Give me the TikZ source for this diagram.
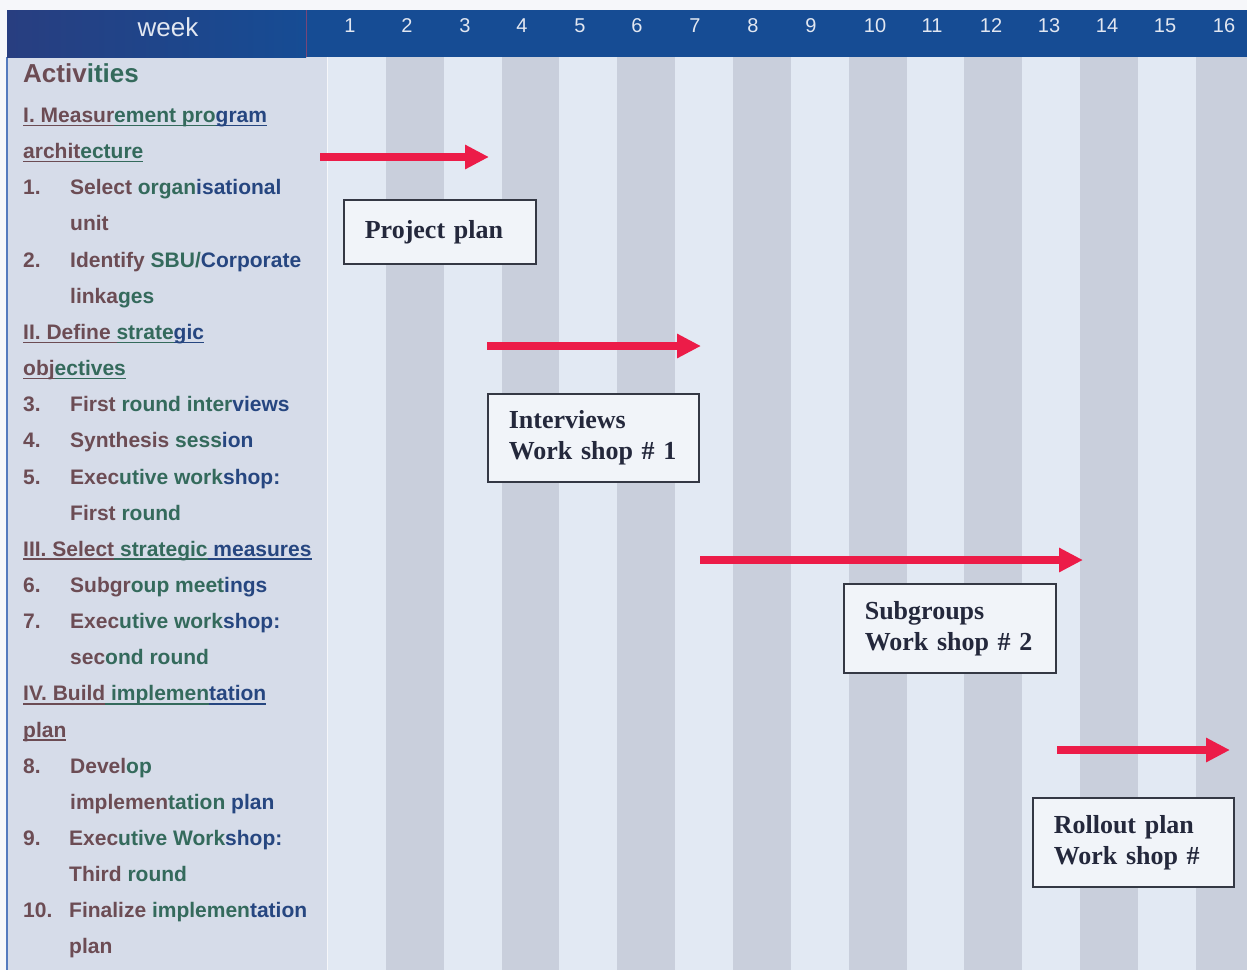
\documentclass[tikz,border=0pt]{standalone}
\usepackage{fontspec}
\setmainfont{Liberation Sans}
\newfontfamily\boxfont{Liberation Serif}
\usetikzlibrary{arrows.meta}

% palette
\definecolor{pagebg}{RGB}{246,247,250}
\definecolor{hdrblue}{RGB}{22,76,148}
\definecolor{hdrleft}{RGB}{40,62,128}
\definecolor{hdrmid}{RGB}{28,94,140}
\definecolor{hdrtext}{RGB}{226,231,241}
\definecolor{colbg}{RGB}{214,220,233}
\definecolor{stripelight}{RGB}{226,233,243}
\definecolor{stripedark}{RGB}{201,207,220}
\definecolor{edgeblue}{RGB}{84,122,190}
\definecolor{txtbrown}{RGB}{108,76,84}
\definecolor{txtgreen}{RGB}{52,106,92}
\definecolor{txtblue}{RGB}{38,70,128}
\definecolor{arrred}{RGB}{236,28,72}
\definecolor{boxline}{RGB}{52,56,68}
\definecolor{boxfill}{RGB}{241,244,249}
\definecolor{boxtext}{RGB}{36,40,60}

% coloured text runs
\newcommand\tb[1]{{\color{txtbrown}#1}}
\newcommand\tg[1]{{\color{txtgreen}#1}}
\newcommand\tu[1]{{\color{txtblue}#1}}
% underlined coloured run with a fixed underline position
\newcommand\ulseg[2]{{\color{#1}\setbox0\hbox{#2}\rlap{\rule[-3.8pt]{\wd0}{1.7pt}}\box0}}

\tikzset{
  x=1pt, y=-1pt,
  item/.style={anchor=base west, inner sep=0pt, font=\fontsize{21}{25}\selectfont\bfseries},
  weeknum/.style={anchor=base, inner sep=0pt, text=hdrtext, font=\fontsize{20}{24}\selectfont},
  planbox/.style={draw=boxline, line width=1.6pt, fill=boxfill, anchor=north west,
    inner xsep=21pt, inner ysep=0pt, align=left, text=boxtext,
    font=\boxfont\bfseries\fontsize{26}{31}\selectfont},
  phasearrow/.style={draw=arrred, line width=7.5pt, -{Triangle[length=24pt,width=23pt]}}
}

\begin{document}
\begin{tikzpicture}
\useasboundingbox (0,0) rectangle (1247,970);
\fill[pagebg] (0,0) rectangle (1247,970);

% week stripes
\begin{scope}
  \clip (7,57) rectangle (1247,970);
  \foreach \i in {0,...,15} {
    \pgfmathsetmacro{\xa}{328+57.86*\i}
    \pgfmathtruncatemacro{\odd}{mod(\i,2)}
    \ifnum\odd=0
      \fill[stripelight] (\xa,57) rectangle ++(57.86,913);
    \else
      \fill[stripedark] (\xa,57) rectangle ++(57.86,913);
    \fi
  }
\end{scope}

% activity column
\fill[colbg] (7,57) rectangle (327,970);
\draw[edgeblue, line width=1.5pt] (7,57) -- (7,970);

% header band
\fill[hdrblue] (7,10) rectangle (1247,57);
\shade[left color=hdrleft, middle color=hdrmid, right color=hdrblue] (7,10) rectangle (306,57);
\draw[draw={rgb,255:red,120;green,70;blue,120}, line width=0.6pt] (306,10) -- (306,57);

\node[anchor=base, inner sep=0pt, text=hdrtext, font=\fontsize{26}{30}\selectfont] (week) at (168,36) {week};
\foreach \n/\x in {1/350,2/407,3/465,4/522,5/580,6/637,7/695,8/753,9/811,10/875,11/932,12/991,13/1049,14/1107,15/1165,16/1224}
  \node[weeknum] (w\n) at (\x,32) {\n};

% activities list
\node[anchor=base west, inner sep=0pt, font=\fontsize{26}{30}\selectfont\bfseries] (act) at (23,82) {\tb{Activ}\tg{ities}};

\node[item] (h1a) at (23,122.5) {\ulseg{txtbrown}{I. Measur}\ulseg{txtgreen}{ement pro}\ulseg{txtblue}{gram}};
\node[item] (h1b) at (23,158.65) {\ulseg{txtbrown}{archit}\ulseg{txtgreen}{ecture}};
\node[item] (n1) at (23,194.8) {\tb{1.}};
\node[item] (t1a) at (70,194.8) {\tb{Select} \tg{organ}\tu{isational}};
\node[item] (t1b) at (70,230.95) {\tb{unit}};
\node[item] (n2) at (23,267.1) {\tb{2.}};
\node[item] (t2a) at (70,267.1) {\tb{Identify} \tg{SBU/}\tu{Corporate}};
\node[item] (t2b) at (70,303.25) {\tb{linka}\tg{ges}};

\node[item] (h2a) at (23,339.4) {\ulseg{txtbrown}{II. Define }\ulseg{txtgreen}{strate}\ulseg{txtblue}{gic}};
\node[item] (h2b) at (23,375.55) {\ulseg{txtbrown}{obj}\ulseg{txtgreen}{ectives}};
\node[item] (n3) at (23,411.7) {\tb{3.}};
\node[item] (t3) at (70,411.7) {\tb{First} \tg{round inter}\tu{views}};
\node[item] (n4) at (23,447.85) {\tb{4.}};
\node[item] (t4) at (70,447.85) {\tb{Synthesis} \tg{sess}\tu{ion}};
\node[item] (n5) at (23,484.0) {\tb{5.}};
\node[item] (t5a) at (70,484.0) {\tb{Exec}\tg{utive work}\tu{shop:}};
\node[item] (t5b) at (70,520.15) {\tb{First} \tg{round}};

\node[item] (h3) at (23,556.3) {\ulseg{txtbrown}{III. Select}\ulseg{txtgreen}{ strategic}\ulseg{txtblue}{ measures}};
\node[item] (n6) at (23,592.45) {\tb{6.}};
\node[item] (t6) at (70,592.45) {\tb{Subgr}\tg{oup meet}\tu{ings}};
\node[item] (n7) at (23,628.6) {\tb{7.}};
\node[item] (t7a) at (70,628.6) {\tb{Exec}\tg{utive work}\tu{shop:}};
\node[item] (t7b) at (70,664.75) {\tb{sec}\tg{ond round}};

\node[item] (h4a) at (23,700.9) {\ulseg{txtbrown}{IV. Build}\ulseg{txtgreen}{ implemen}\ulseg{txtblue}{tation}};
\node[item] (h4b) at (23,737.05) {\ulseg{txtbrown}{plan}};
\node[item] (n8) at (23,773.2) {\tb{8.}};
\node[item] (t8a) at (70,773.2) {\tb{Devel}\tg{op}};
\node[item] (t8b) at (70,809.35) {\tb{implemen}\tg{tation} \tu{plan}};
\node[item] (n9) at (23,845.5) {\tb{9.}};
\node[item] (t9a) at (69,845.5) {\tb{Exec}\tg{utive Work}\tu{shop:}};
\node[item] (t9b) at (69,881.65) {\tb{Third} \tg{round}};
\node[item] (n10) at (23,917.8) {\tb{10.}};
\node[item] (t10a) at (69,917.8) {\tb{Finalize} \tg{implemen}\tu{tation}};
\node[item] (t10b) at (69,953.95) {\tb{plan}};

% phase arrows
\coordinate (p1s) at (320,157);  \coordinate (p1e) at (489,157);
\coordinate (p2s) at (487,346);  \coordinate (p2e) at (701,346);
\coordinate (p3s) at (700,560);  \coordinate (p3e) at (1083,560);
\coordinate (p4s) at (1057,750); \coordinate (p4e) at (1230,750);
\draw[phasearrow] (p1s) -- (p1e);
\draw[phasearrow] (p2s) -- (p2e);
\draw[phasearrow] (p3s) -- (p3e);
\draw[phasearrow] (p4s) -- (p4e);

% deliverable boxes
\node[planbox, minimum width=192pt, minimum height=64pt, text width=150pt] (b1) at (343,199) {Project plan};
\node[planbox, minimum width=211pt, minimum height=88pt, text width=169pt] (b2) at (487,393) {Interviews\\Work shop \# 1};
\node[planbox, minimum width=212pt, minimum height=89pt, text width=170pt] (b3) at (843,583) {Subgroups\\Work shop \# 2};
\node[planbox, minimum width=201pt, minimum height=89pt, text width=159pt] (b4) at (1032,797) {Rollout plan\\Work shop \#};
\end{tikzpicture}
\end{document}
